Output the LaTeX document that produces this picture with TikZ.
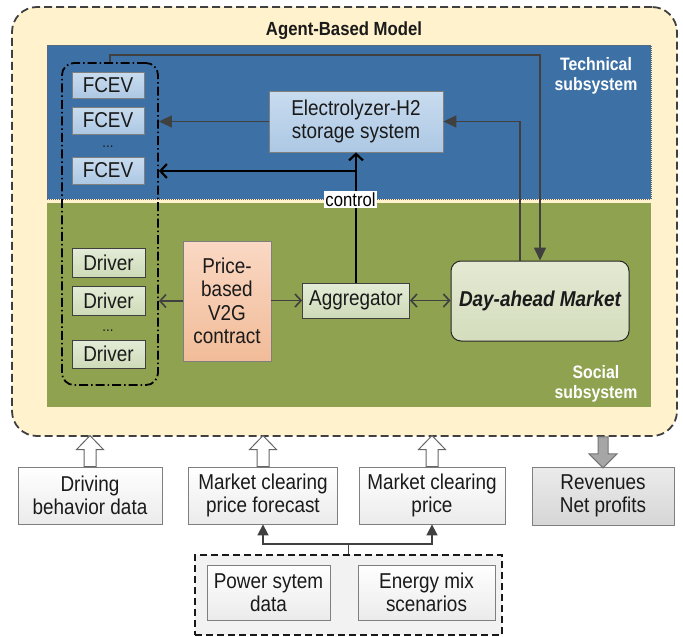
\documentclass[tikz,border=0pt]{standalone}
\usepackage{fontspec}
\setmainfont[FakeStretch=0.88]{Liberation Sans}
\usetikzlibrary{arrows.meta,calc}

% palette
\definecolor{abmfill}{HTML}{FFF2CC}
\definecolor{edgedark}{HTML}{404040}
\definecolor{techblue}{HTML}{3D71A5}
\definecolor{socgreen}{HTML}{8FA24F}
\definecolor{blueTop}{HTML}{C9DCEF}
\definecolor{blueBot}{HTML}{ADC8E4}
\definecolor{greenTop}{HTML}{E3ECD7}
\definecolor{greenBot}{HTML}{CEDBB8}
\definecolor{peachTop}{HTML}{FAD8C4}
\definecolor{peachBot}{HTML}{F1BC98}
\definecolor{mktTop}{HTML}{E4E9D3}
\definecolor{mktBot}{HTML}{D4DDBD}
\definecolor{greyTop}{HTML}{FFFFFF}
\definecolor{greyBot}{HTML}{EBEBEB}
\definecolor{revTop}{HTML}{EBEBEB}
\definecolor{revBot}{HTML}{D6D6D6}
\definecolor{boxedge}{HTML}{7F7F7F}
\definecolor{inktext}{HTML}{1A1A1A}

\newcommand\mainsize{\fontsize{21.5}{23.5}\selectfont}

\begin{document}
\begin{tikzpicture}[x=1pt,y=-1pt,
  base/.style={inner sep=0pt, align=center, text=inktext, font=\mainsize, line width=0.8pt},
  outer/.style={draw=edgedark, fill=abmfill, line width=1.8pt, dash pattern=on 8pt off 4pt, rounded corners=25pt},
  titletext/.style={font=\fontsize{19}{21}\selectfont\bfseries, text=inktext},
  techpanel/.style={fill=techblue, draw=edgedark!80, line width=0.8pt, dash pattern=on 1pt off 1pt},
  socpanel/.style={fill=socgreen},
  panellabel/.style={font=\fontsize{18}{20.5}\selectfont\bfseries, text=white, align=center},
  bluebox/.style={base, draw=boxedge, top color=blueTop, bottom color=blueBot},
  greenbox/.style={base, draw=edgedark, top color=greenTop, bottom color=greenBot},
  peachbox/.style={base, draw=boxedge, top color=peachTop, bottom color=peachBot},
  marketbox/.style={base, draw=black!85, line width=1pt, rounded corners=10pt, top color=mktTop, bottom color=mktBot, font=\mainsize\bfseries\itshape},
  greybox/.style={base, draw=boxedge, top color=greyTop, bottom color=greyBot},
  revbox/.style={base, draw=boxedge, top color=revTop, bottom color=revBot},
  group/.style={draw=black, line width=1.8pt, rounded corners=12pt, dash pattern=on 9pt off 3pt on 1.5pt off 3pt},
  datagroup/.style={draw=black!90, fill=black!5, line width=2.2pt, dash pattern=on 7pt off 4pt},
  dotsnode/.style={font=\fontsize{15}{15}\selectfont, text=inktext, inner sep=0pt},
  ctrllabel/.style={fill=white, inner sep=1.5pt, font=\fontsize{19}{21}\selectfont, text=black},
  conn/.style={draw=edgedark, line width=1.6pt},
  fillarrow/.style={conn, -{Triangle[length=13pt,width=12pt]}},
  smallfill/.style={conn, -{Triangle[length=11pt,width=11pt]}},
  openarrow/.style={conn, -{Straight Barb[length=6pt,width=13pt]}},
  bothopen/.style={conn, {Straight Barb[length=6pt,width=13pt]}-{Straight Barb[length=6pt,width=13pt]}},
  ctrlarrow/.style={draw=black, line width=2.2pt, -{Straight Barb[length=6.5pt,width=14pt]}},
  hollowarrow/.style={draw=black!60, fill=white, line width=1pt},
  solidarrow/.style={draw=black!55, fill=black!35, line width=1pt},
  pics/upblock/.style={code={
    \draw[hollowarrow] (-6,0) -- (-6,-17) -- (-13.5,-17) -- (0,-31) -- (13.5,-17) -- (6,-17) -- (6,0) -- cycle;}},
  pics/downblock/.style={code={
    \draw[solidarrow] (-5,0) -- (-5,17) -- (-14,17) -- (0,31) -- (14,17) -- (5,17) -- (5,0) -- cycle;}}
]
\useasboundingbox (0,0) rectangle (683,637);

% model frame and the two subsystems
\node[outer, minimum width=665pt, minimum height=429pt] (abm) at (344.5,221.5) {};
\node[titletext] (title) at (344,31) {Agent-Based Model};
\node[techpanel, minimum width=604pt, minimum height=154pt] (tech) at (349,122) {};
\node[socpanel, minimum width=604pt, minimum height=204pt] (soc) at (349,305) {};
\node[panellabel] (techlbl) at (596,76) {Technical\\subsystem};
\node[panellabel] (soclbl) at (596,384) {Social\\subsystem};

% vehicles and drivers
\node[bluebox, minimum width=72pt, minimum height=26pt] (fcev1) at (108,85) {FCEV};
\node[bluebox, minimum width=72pt, minimum height=27pt] (fcev2) at (108,120.5) {FCEV};
\node[dotsnode] (fdots) at (108,147) {...};
\node[bluebox, minimum width=72pt, minimum height=27pt] (fcev3) at (108,170.5) {FCEV};
\node[greenbox, minimum width=73pt, minimum height=29pt] (drv1) at (108.5,262.5) {Driver};
\node[greenbox, minimum width=73pt, minimum height=29pt] (drv2) at (108.5,300.5) {Driver};
\node[dotsnode] (ddots) at (108,331) {...};
\node[greenbox, minimum width=73pt, minimum height=28pt] (drv3) at (108.5,354) {Driver};
\node[group, minimum width=96pt, minimum height=322pt] (grp) at (110,224) {};

% other agents
\node[bluebox, minimum width=174pt, minimum height=61pt] (elec) at (356,121.5) {Electrolyzer-H2\\storage system};
\node[peachbox, minimum width=88pt, minimum height=120pt] (v2g) at (227,301) {Price-\\based\\V2G\\contract};
\node[greenbox, minimum width=107pt, minimum height=35pt] (agg) at (356,300.5) {Aggregator};
\node[marketbox, minimum width=178pt, minimum height=80pt] (mkt) at (540,301) {Day-ahead Market};

% flows inside the model
\coordinate (rail) at (0,55);
\draw[fillarrow] (grp.north) |- (rail -| mkt.north) -- (mkt.north);
\draw[fillarrow] ($(mkt.north)+(-20,0)$) |- (elec.east);
\draw[fillarrow] (elec.west) -- (elec.west -| grp.east);
\draw[ctrlarrow] (agg.north) -- (elec.south);
\coordinate (cbr) at (356,171);
\draw[ctrlarrow] (cbr) -- (cbr -| grp.east);
\node[ctrllabel] (ctl) at (350.5,199.5) {control};
\draw[openarrow] (v2g.west) -- (v2g.west -| grp.east);
\draw[openarrow] (v2g.east |- agg.west) -- (agg.west);
\draw[bothopen] (agg.east) -- (mkt.west |- agg.east);

% inputs and outputs
\node[greybox, minimum width=144pt, minimum height=57pt] (drvdata) at (90,495.5) {Driving\\behavior data};
\node[greybox, minimum width=149pt, minimum height=57pt] (fcst) at (263,495.5) {Market clearing\\price forecast};
\node[greybox, minimum width=146pt, minimum height=57pt] (price) at (432,495.5) {Market clearing\\price};
\node[revbox, minimum width=142pt, minimum height=58pt] (rev) at (603,496) {Revenues\\Net profits};

\path (drvdata.north) pic {upblock};
\path (fcst.north) pic {upblock};
\path (price.north) pic {upblock};
\path (rev.north |- abm.south) pic {downblock};

% power system data
\node[datagroup, minimum width=307pt, minimum height=80pt] (data) at (348.5,595) {};
\node[greybox, minimum width=123pt, minimum height=55pt] (pwr) at (268.5,592.5) {Power sytem\\data};
\node[greybox, minimum width=137pt, minimum height=55pt] (mix) at (426.5,592.5) {Energy mix\\scenarios};
\coordinate (junc) at ($(data.north)+(0,-10)$);
\draw[conn] (data.north) -- (junc);
\draw[smallfill] (junc) -| (fcst.south);
\draw[smallfill] (junc) -| (price.south);
\end{tikzpicture}
\end{document}
